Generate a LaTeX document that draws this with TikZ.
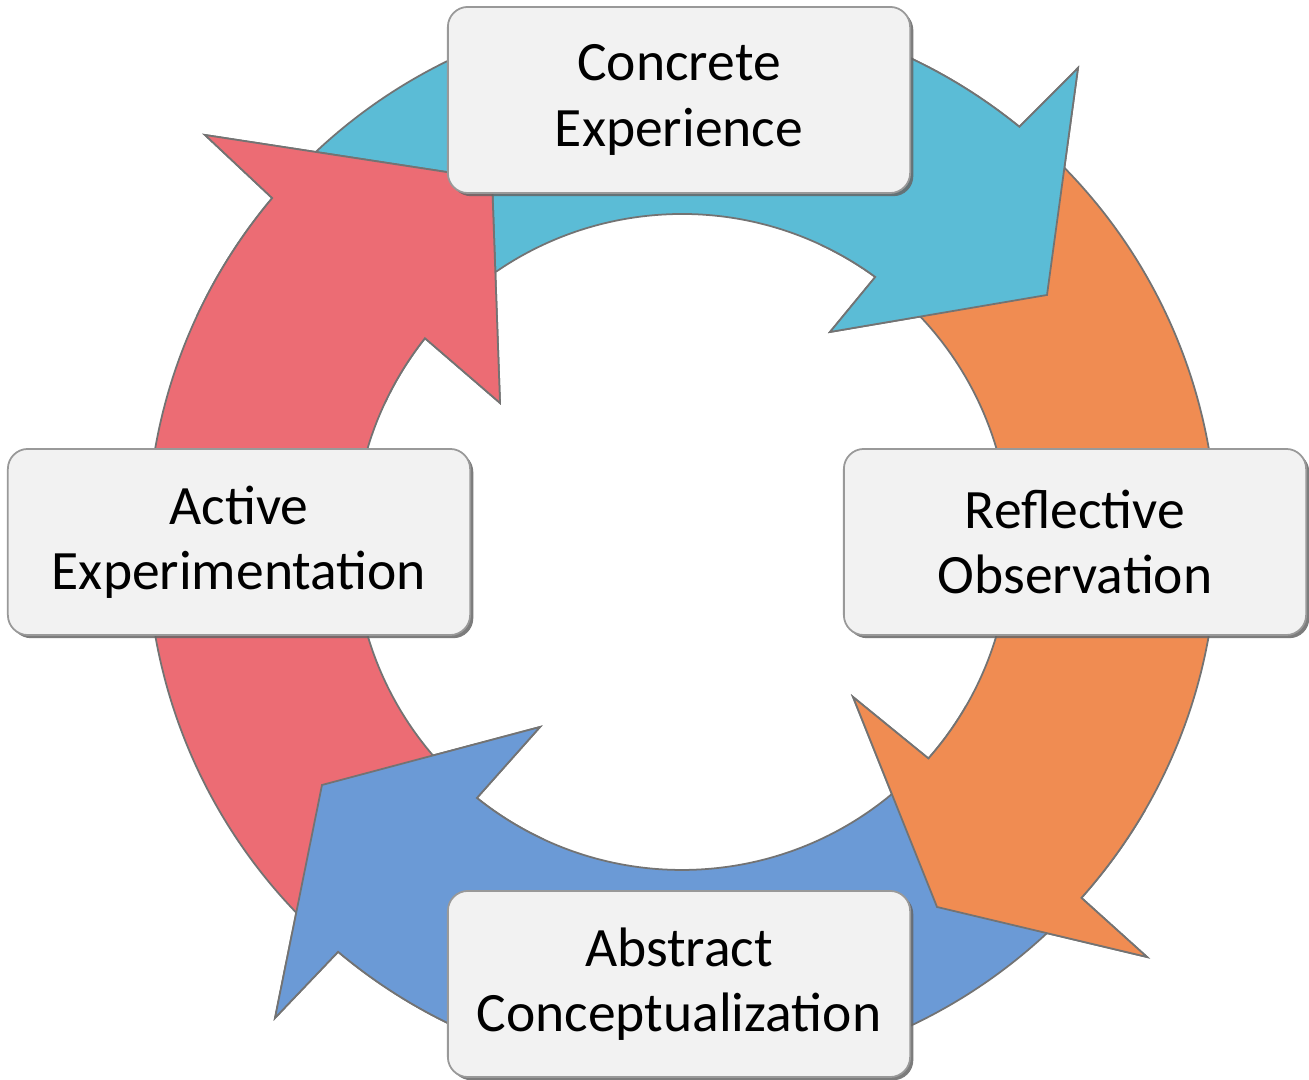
\documentclass[tikz,border=0pt]{standalone}
\usepackage{fontspec}
\setmainfont{Carlito}
\usetikzlibrary{shadows}
\definecolor{cblue}{RGB}{91,188,214}
\definecolor{corange}{RGB}{240,140,82}
\definecolor{cbblue}{RGB}{107,154,214}
\definecolor{cred}{RGB}{236,108,116}
\definecolor{boxfill}{RGB}{242,242,242}
\newcommand\ceTopArrowPath{(137:535) arc[start angle=137,end angle=50.9,radius=535] -- (396,474) -- (365,247) -- (148,210) -- (53.9:328) arc[start angle=53.9,end angle=137,radius=328] -- cycle}
\newcommand\roArrowPath{(47:535) arc[start angle=47,end angle=-41.7,radius=535] -- (465,-415) -- (255,-365) -- (171,-155) -- (-41.3:328) arc[start angle=-41.3,end angle=47,radius=328] -- cycle}
\newcommand\acArrowPath{(314.5:535) arc[start angle=314.5,end angle=230,radius=535] -- (-407,-476) -- (-360,-243) -- (-142,-185) -- (231.3:328) arc[start angle=231.3,end angle=314.5,radius=328] -- cycle}
\newcommand\aeArrowPath{(226.5:535) arc[start angle=226.5,end angle=140,radius=535] -- (-477,407) -- (-190,363) -- (-182,139) -- (141.6:328) arc[start angle=141.6,end angle=226.5,radius=328] -- cycle}
\newcommand\headSector[2]{\clip (0,0) -- (#1:720) arc[start angle=#1,end angle=#2,radius=720] -- cycle;}
\begin{document}
\begin{tikzpicture}[x=0.01cm,y=0.01cm,
  arrowshape/.style={draw=black!55, line width=0.5pt, line join=miter},
  stagebox/.style={rectangle, rounded corners=0.2cm, draw=black!40, line width=0.5pt,
    fill=boxfill, minimum width=4.62cm, minimum height=1.86cm, align=center,
    font=\fontsize{15.8pt}{18.5pt}\selectfont,
    drop shadow={shadow xshift=0.9pt, shadow yshift=-0.9pt, fill=black!60, opacity=0.85}}]
\useasboundingbox (0,0) rectangle (1309,1080);
\fill[white] (0,0) rectangle (1309,1080);
\begin{scope}[shift={(682,538)}]
  % full arrows
  \path[arrowshape, fill=cblue] \ceTopArrowPath;
  \path[arrowshape, fill=corange] \roArrowPath;
  \path[arrowshape, fill=cbblue] \acArrowPath;
  \path[arrowshape, fill=cred] \aeArrowPath;
  % each head again, over the tail of the next arrow
  \begin{scope}\headSector{20}{65}
    \path[arrowshape, fill=cblue] \ceTopArrowPath;
  \end{scope}
  \begin{scope}\headSector{-70}{-30}
    \path[arrowshape, fill=corange] \roArrowPath;
  \end{scope}
  \begin{scope}\headSector{200}{245}
    \path[arrowshape, fill=cbblue] \acArrowPath;
  \end{scope}
  \begin{scope}\headSector{110}{155}
    \path[arrowshape, fill=cred] \aeArrowPath;
  \end{scope}
\end{scope}
\node[stagebox] (ce) at (679,980) {Concrete\\Experience};
\node[stagebox] (ro) at (1075,538) {Reflective\\Observation};
\node[stagebox] (ac) at (679,96) {Abstract\\Conceptualization};
\node[stagebox] (ae) at (239,538) {Active\\Experimentation};
\end{tikzpicture}
\end{document}
